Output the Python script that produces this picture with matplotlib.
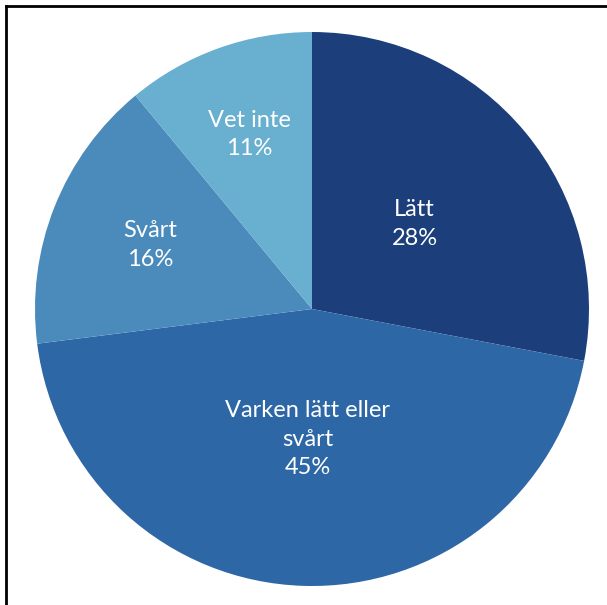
import matplotlib
matplotlib.use("Agg")
import matplotlib.pyplot as plt
from matplotlib.lines import Line2D
import numpy as np

categories = ["Lätt", "Varken lätt eller\nsvårt", "Svårt", "Vet inte"]
values = [28, 45, 16, 11]
colors = ["#1c3f7c", "#2d67a6", "#4a8bbb", "#69afcf"]
label_ratio = [0.48, 0.47, 0.63, 0.67]

plt.rcParams['font.family'] = ['Lato', 'DejaVu Sans']

W, H = 607, 605
fig = plt.figure(figsize=(W / 100, H / 100), dpi=100)
cx, cy, r = 312, 309, 277
ax = fig.add_axes([(cx - r) / W, (H - cy - r) / H, 2 * r / W, 2 * r / H])

wedges, _ = ax.pie(values, colors=colors, startangle=90, counterclock=False,
                   radius=1, wedgeprops=dict(linewidth=0))
ax.set_xlim(-1, 1)
ax.set_ylim(-1, 1)
ax.set_aspect('equal')
ax.axis('off')

for w, cat, v, ratio in zip(wedges, categories, values, label_ratio):
    ang = np.deg2rad((w.theta1 + w.theta2) / 2)
    ax.text(ratio * np.cos(ang), ratio * np.sin(ang), f"{cat}\n{v}%",
            ha='center', va='center', color='white', fontsize=17,
            linespacing=1.45)

# partial frame (left and top edges)
fig.add_artist(Line2D([6 / W, 6 / W], [0, 1 - 6 / H], transform=fig.transFigure,
                      color='black', linewidth=2))
fig.add_artist(Line2D([6 / W, 1], [1 - 6 / H, 1 - 6 / H], transform=fig.transFigure,
                      color='black', linewidth=2))

fig.savefig("out.png", dpi=100, facecolor='white')
